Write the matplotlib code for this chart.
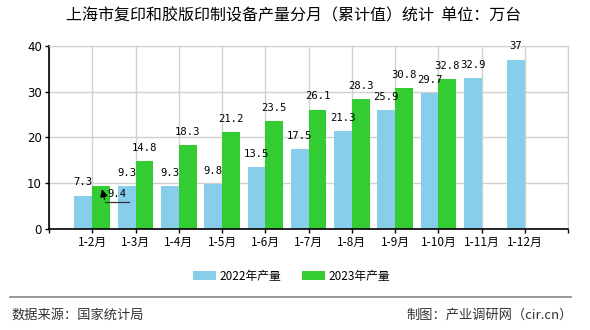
import matplotlib
matplotlib.use("Agg")
import matplotlib.pyplot as plt
import numpy as np

plt.rcParams['font.family'] = ['Noto Sans CJK SC', 'DejaVu Sans']

categories = ["1-2月", "1-3月", "1-4月", "1-5月", "1-6月", "1-7月", "1-8月", "1-9月", "1-10月", "1-11月", "1-12月"]
values_2022 = [7.3, 9.3, 9.3, 9.8, 13.5, 17.5, 21.3, 25.9, 29.7, 32.9, 37]
values_2023 = [9.4, 14.8, 18.3, 21.2, 23.5, 26.1, 28.3, 30.8, 32.8, None, None]
series_names = ["2022年产量", "2023年产量"]
y_ticks = [0, 10, 20, 30, 40]

c22 = "#87CEEB"
c23 = "#33CC33"

fig = plt.figure(figsize=(5.9, 3.3), dpi=100)
ax = fig.add_axes([0.083, 0.306, 0.880, 0.555])

x = np.arange(len(categories))
w = 0.41
ax.bar(x - w / 2, values_2022, width=w, color=c22, label=series_names[0], zorder=3)
x23 = [xi for xi, v in zip(x, values_2023) if v is not None]
v23 = [v for v in values_2023 if v is not None]
ax.bar(np.array(x23) + w / 2, v23, width=w, color=c23, label=series_names[1], zorder=3)

lab_kw = dict(ha='center', va='center', fontsize=7.6, family=['DejaVu Sans Mono'], zorder=5)
for xi, v in zip(x, values_2022):
    ax.annotate(f"{v:g}", (xi - w / 2, v), xytext=(0, 9.5), textcoords='offset points', **lab_kw)
for i, (xi, v) in enumerate(zip(x23, v23)):
    if i == 0:
        # displaced label with leader arrow, as in the reference
        ax.text(xi + 0.57, v - 1.75, f"{v:g}", ha='center', va='center', fontsize=7.6,
                family=['DejaVu Sans Mono'], zorder=6)
        ax.annotate("", xy=(xi + 0.21, v - 0.1), xytext=(xi + 0.30, v - 3.5),
                    arrowprops=dict(arrowstyle='-|>', color='black', lw=0.9, mutation_scale=11), zorder=6)
        ax.plot([xi + 0.30, xi + 0.85], [v - 3.5, v - 3.5], color='#333333', lw=0.9, zorder=6)
    else:
        ax.annotate(f"{v:g}", (xi + w / 2, v), xytext=(0, 9.5), textcoords='offset points', **lab_kw)

ax.set_xlim(-1, len(categories))
ax.set_ylim(0, 40)
ax.set_yticks(y_ticks)
ax.set_yticklabels([str(t) for t in y_ticks], fontsize=8.5, family=['DejaVu Sans'])
ax.set_xticks(np.arange(-1, len(categories) + 1))
ax.set_xticklabels([""] + categories + [""], fontsize=8.5)
ax.tick_params(axis='both', length=3, width=1, color='black', pad=2)
ax.grid(True, color='#d0d0d0', lw=1, zorder=0)
ax.set_axisbelow(True)
for s in ['top', 'right']:
    ax.spines[s].set_color('#d0d0d0')
for s in ['left', 'bottom']:
    ax.spines[s].set_color('black')
    ax.spines[s].set_linewidth(1.2)
ax.spines['bottom'].set_zorder(4)

fig.text(0.498, 0.952, "上海市复印和胶版印制设备产量分月（累计值）统计  单位：万台", ha='center', va='center', fontsize=11.5)

leg = fig.legend(loc='center', bbox_to_anchor=(0.494, 0.163), ncol=2, frameon=False, fontsize=8.5,
                 handlelength=1.9, handleheight=0.8, handletextpad=0.3, columnspacing=1.8)

fig.add_artist(plt.Line2D([0.017, 0.968], [0.1, 0.1], color='#888888', lw=1.2))
fig.text(0.02, 0.045, "数据来源：国家统计局", ha='left', va='center', fontsize=9.5, color='#333333')
fig.text(0.97, 0.045, "制图：产业调研网（cir.cn）", ha='right', va='center', fontsize=9.5, color='#333333')

fig.savefig("out.png", dpi=100)
